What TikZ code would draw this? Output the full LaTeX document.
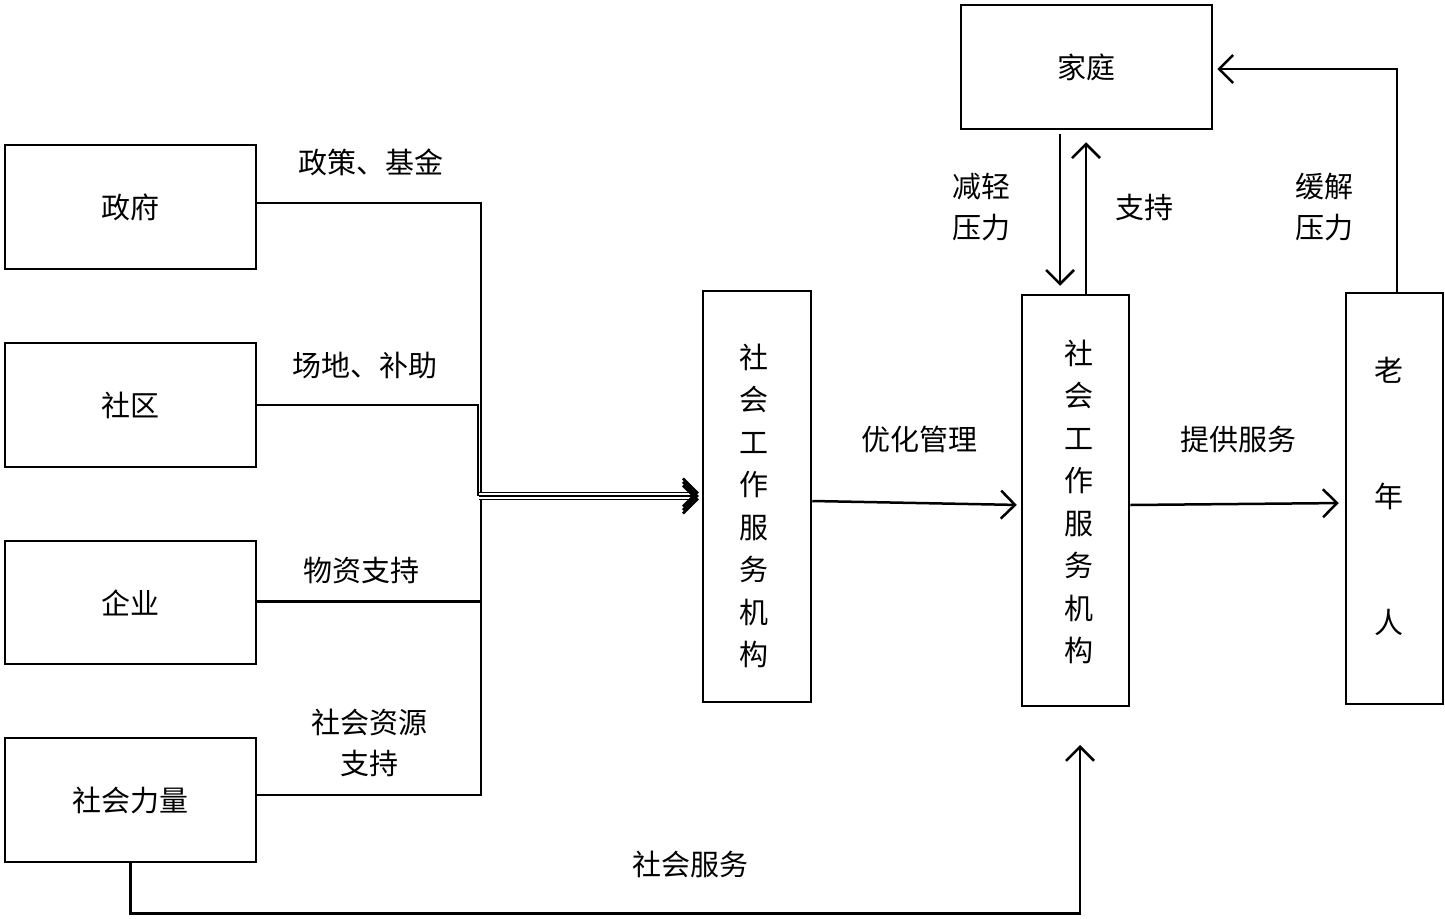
\documentclass[tikz,border=0pt]{standalone}
\usepackage{fontspec}
\setmainfont{Noto Sans CJK SC}
\usetikzlibrary{arrows.meta}
\begin{document}
\begin{tikzpicture}[x=1pt,y=-1pt, line width=2.5pt,
 box/.style={draw, line width=2.5pt, inner sep=0pt, font=\fontsize{29}{34}\selectfont},
 lbl/.style={font=\fontsize{29}{41}\selectfont, align=center, inner sep=0pt},
 arr/.style={-{Straight Barb[length=14pt,width=28pt,line width=2.5pt]}}
]
\useasboundingbox (0,0) rectangle (1445,918);
\node[box, minimum width=251pt, minimum height=124pt] (gov) at (130.5,207) {政府};
\node[box, minimum width=251pt, minimum height=124pt] (comm) at (130.5,405) {社区};
\node[box, minimum width=251pt, minimum height=123pt] (ent) at (130.5,602.5) {企业};
\node[box, minimum width=251pt, minimum height=124pt] (soc) at (130.5,800) {社会力量};
\node[box, minimum width=108pt, minimum height=411pt] (svc1) at (757,496.5) {};
\node[box, minimum width=107pt, minimum height=411pt] (svc2) at (1075.5,500.5) {};
\node[box, minimum width=97pt, minimum height=411pt] (old) at (1394.5,498.5) {};
\node[box, minimum width=251pt, minimum height=124pt] (fam) at (1086.5,67) {家庭};
\node[lbl, font=\fontsize{29}{42.5}\selectfont] (t1) at (754,506) {社\\会\\工\\作\\服\\务\\机\\构};
\node[lbl, font=\fontsize{29}{42.5}\selectfont] (t2) at (1079,502) {社\\会\\工\\作\\服\\务\\机\\构};
\node[lbl, font=\fontsize{29}{126}\selectfont] (t3) at (1389,496) {老\\年\\人};

\node[lbl] (l1) at (371,162) {政策、基金};
\node[lbl] (l2) at (365,366) {场地、补助};
\node[lbl] (l3) at (361,571) {物资支持};
\node[lbl] (l4) at (369,743) {社会资源\\支持};
\node[lbl] (l5) at (919,439) {优化管理};
\node[lbl] (l6) at (1238,439) {提供服务};
\node[lbl] (l7) at (981,207) {减轻\\压力};
\node[lbl] (l8) at (1144,207) {支持};
\node[lbl] (l9) at (1324,207) {缓解\\压力};
\node[lbl] (l10) at (690,864) {社会服务};

\draw ([yshift=4pt]gov.east) -| (481,493);
\draw (comm.east) -| (478,496);
\draw ([yshift=1pt]ent.east) -| (481,499);
\draw ([yshift=5pt]soc.east) -| (481,499);
\coordinate (m1) at (479,492.5);
\coordinate (m2) at (479,496);
\coordinate (m3) at (479,499.5);
\draw[arr, line width=1.8pt, shorten >=3pt] (m1) -- ([yshift=4pt]svc1.west);
\draw[arr, line width=1.8pt, shorten >=3pt] (m2) -- ([yshift=0.5pt]svc1.west);
\draw[arr, line width=1.8pt, shorten >=3pt] (m3) -- ([yshift=-3pt]svc1.west);

\draw[arr, shorten >=4pt] ([yshift=-4.5pt]svc1.east) -- ([yshift=-4.5pt]svc2.west);
\draw[arr, shorten >=6pt] ([yshift=-4.5pt]svc2.east) -- ([yshift=-4.5pt]old.west);
\draw[arr, shorten <=4pt, shorten >=8pt] ([xshift=-26.5pt]fam.south) -- ([xshift=-15.5pt]svc2.north);
\draw[arr, shorten >=12pt] ([xshift=10.5pt]svc2.north) -- ([xshift=-0.5pt]fam.south);
\draw[arr, shorten >=4pt] ([xshift=2.5pt]old.north) |- ([yshift=-2pt]fam.east);
\coordinate (tip) at (1080,745);
\draw[arr] (soc.south) -- ++(0,50) -| (tip);
\end{tikzpicture}
\end{document}
